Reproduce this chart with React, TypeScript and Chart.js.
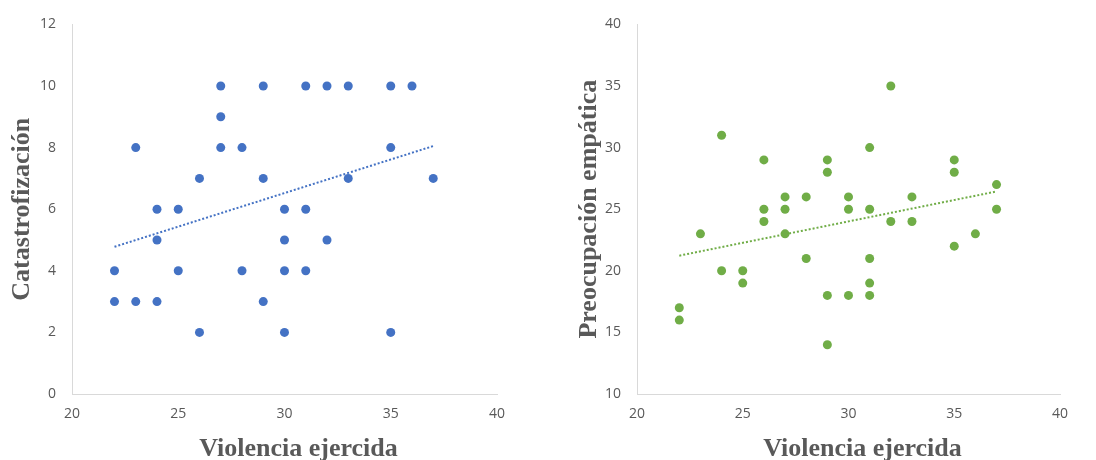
import React, { useEffect, useRef } from "react";
import { Chart, registerables } from "chart.js";

Chart.register(...registerables);

// Left chart: Violencia ejercida vs Catastrofización
const leftX = [27, 29, 31, 32, 33, 35, 36, 27, 23, 27, 28, 35, 26, 29, 33, 37, 24, 25, 30, 31, 24, 30, 32, 22, 25, 28, 30, 31, 22, 23, 24, 29, 26, 30, 35];
const leftY = [10, 10, 10, 10, 10, 10, 10, 9, 8, 8, 8, 8, 7, 7, 7, 7, 6, 6, 6, 6, 5, 5, 5, 4, 4, 4, 4, 4, 3, 3, 3, 3, 2, 2, 2];
const leftTrendX = [22, 37];
const leftTrendY = [4.78, 8.05];

// Right chart: Violencia ejercida vs Preocupación empática
const rightX = [22, 22, 23, 24, 24, 25, 25, 26, 26, 26, 27, 27, 27, 28, 28, 29, 29, 29, 29, 30, 30, 30, 31, 31, 31, 31, 31, 32, 32, 33, 33, 35, 35, 35, 36, 37, 37];
const rightY = [17, 16, 23, 31, 20, 20, 19, 29, 25, 24, 26, 25, 23, 26, 21, 29, 28, 18, 14, 26, 25, 18, 30, 25, 21, 19, 18, 35, 24, 26, 24, 29, 28, 22, 23, 27, 25];
const rightTrendX = [22, 37];
const rightTrendY = [21.23, 26.44];

const xTitle = "Violencia ejercida";
const leftYTitle = "Catastrofización";
const rightYTitle = "Preocupación empática";

const GRAY = "#595959";
const AXIS = "#d9d9d9";
const TITLE_FONT = "bold 26px 'Liberation Serif'";

type Cfg = {
  xs: number[];
  ys: number[];
  tx: number[];
  ty: number[];
  color: string;
  yTitle: string;
  yMin: number;
  yMax: number;
  yStep: number;
  axisW: number;
  padRight: number;
  yTitlePad: number;
};

const xTitlePlugin = {
  id: "xTitlePlugin",
  afterDraw(chart: any) {
    const { ctx, chartArea } = chart;
    ctx.save();
    ctx.font = TITLE_FONT;
    ctx.fillStyle = GRAY;
    ctx.textAlign = "center";
    ctx.textBaseline = "alphabetic";
    ctx.fillText(xTitle, (chartArea.left + chartArea.right) / 2 + 14, 456);
    ctx.restore();
  },
};

function ScatterPanel(props: Cfg) {
  const ref = useRef<HTMLCanvasElement>(null);
  useEffect(() => {
    if (!ref.current) return;
    const pts = props.xs.map((x, i) => ({ x, y: props.ys[i] }));
    const trend = props.tx.map((x, i) => ({ x, y: props.ty[i] }));
    const chart = new Chart(ref.current, {
      type: "scatter",
      data: {
        datasets: [
          {
            data: trend,
            showLine: true,
            borderColor: props.color,
            borderWidth: 2,
            borderDash: [2, 2],
            pointRadius: 0,
            fill: false,
          } as any,
          {
            data: pts,
            backgroundColor: props.color,
            borderColor: props.color,
            pointRadius: 4.5,
            pointBorderWidth: 0,
          },
        ],
      },
      plugins: [xTitlePlugin],
      options: {
        responsive: false,
        animation: false,
        events: [],
        layout: { padding: { top: 20, right: props.padRight, left: 0, bottom: 0 } },
        plugins: { legend: { display: false }, tooltip: { enabled: false } },
        scales: {
          x: {
            type: "linear",
            min: 20,
            max: 40,
            ticks: {
              stepSize: 5,
              color: GRAY,
              font: { family: "Open Sans", size: 14 },
              padding: 12,
            },
            grid: { color: "rgba(0,0,0,0)", drawTicks: false },
            border: { display: true, color: AXIS, width: 1 },
            title: { display: false },
            afterFit: (s: any) => {
              s.height = 66;
            },
          },
          y: {
            type: "linear",
            min: props.yMin,
            max: props.yMax,
            ticks: {
              stepSize: props.yStep,
              color: GRAY,
              font: { family: "Open Sans", size: 14 },
              padding: 16,
            },
            grid: { color: "rgba(0,0,0,0)", drawTicks: false },
            border: { display: true, color: AXIS, width: 1 },
            title: {
              display: true,
              text: props.yTitle,
              color: GRAY,
              font: { family: "Liberation Serif", size: 26, weight: "bold", lineHeight: 1 },
              padding: { top: props.yTitlePad, bottom: 0 },
            },
            afterFit: (s: any) => {
              s.width = props.axisW;
            },
          },
        },
      },
    });
    return () => chart.destroy();
  }, []);
  return <canvas ref={ref} width={548} height={460} style={{ display: "block", width: 548, height: 460 }} />;
}

export default function App() {
  return (
    <div style={{ position: "absolute", left: 0, top: 0, width: 1096, height: 460, background: "#fff", display: "flex" }}>
      <ScatterPanel xs={leftX} ys={leftY} tx={leftTrendX} ty={leftTrendY} color="#4472C4" yTitle={leftYTitle}
        yMin={0} yMax={12} yStep={2} axisW={72} padRight={51} yTitlePad={9} />
      <ScatterPanel xs={rightX} ys={rightY} tx={rightTrendX} ty={rightTrendY} color="#70AD47" yTitle={rightYTitle}
        yMin={10} yMax={40} yStep={5} axisW={89} padRight={36} yTitlePad={28} />
    </div>
  );
}
